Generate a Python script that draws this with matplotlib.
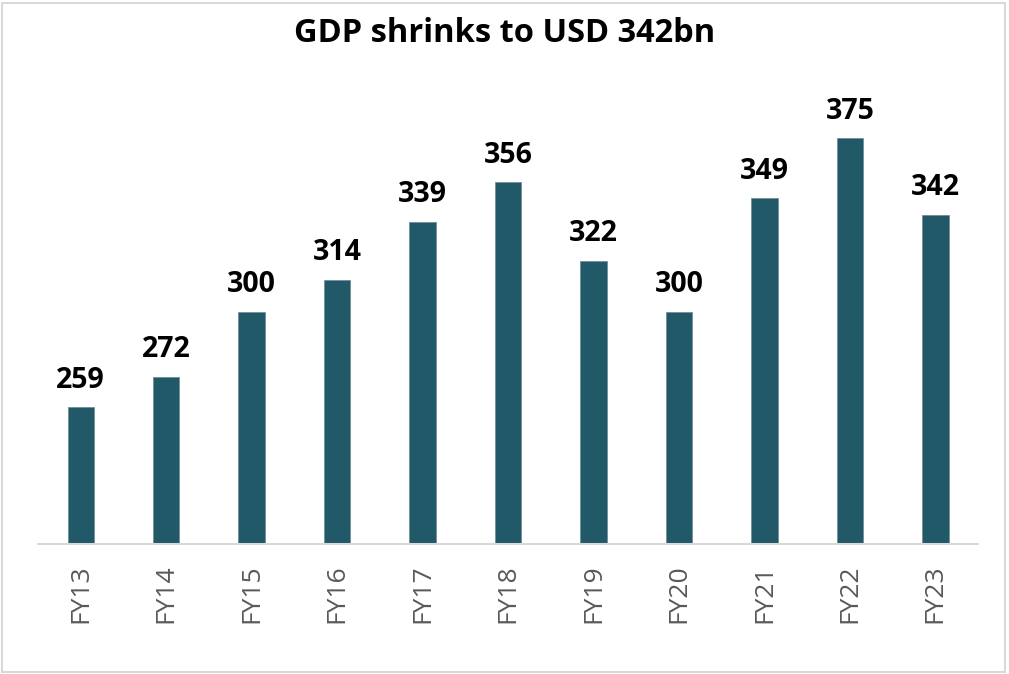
import matplotlib.pyplot as plt
from matplotlib.patches import Rectangle

# --- data ---
years = ["FY13", "FY14", "FY15", "FY16", "FY17", "FY18", "FY19", "FY20", "FY21", "FY22", "FY23"]
gdp_usd_bn = [259, 272, 300, 314, 339, 356, 322, 300, 349, 375, 342]

bar_color = "#215968"
plt.rcParams["font.family"] = ["Open Sans", "DejaVu Sans"]

fig = plt.figure(figsize=(10.09, 6.74), dpi=100)
ax = fig.add_axes([0.0377, 0.1929, 0.9316, 0.6884])

x = range(len(years))
ax.bar(x, gdp_usd_bn, width=0.31, color=bar_color, edgecolor="#6f8f99", linewidth=0.6, zorder=2)

for i, v in enumerate(gdp_usd_bn):
    ax.annotate(str(v), (i, v), xytext=(0, 9), textcoords="offset points",
                ha="center", va="bottom", fontsize=20.5, fontweight="bold", color="black")

ax.set_ylim(200, 400)
ax.set_xlim(-0.5, len(years) - 0.5)
ax.set_xticks(list(x))
ax.set_xticklabels(years, rotation=90, fontsize=19, color="#595959")
ax.tick_params(axis="x", length=0, pad=15)
ax.set_yticks([])
for side in ["top", "left", "right"]:
    ax.spines[side].set_visible(False)
ax.spines["bottom"].set_color("#d9d9d9")
ax.spines["bottom"].set_linewidth(1.5)

fig.text(0.5, 0.951, "GDP shrinks to USD 342bn", ha="center", va="center",
         fontsize=23.5, fontweight="bold", color="black")

# light grey frame around the chart
fig.patches.append(Rectangle((0.002, 0.003), 0.994, 0.992, transform=fig.transFigure,
                             fill=False, edgecolor="#d9d9d9", linewidth=1.5))

fig.savefig("out.png", dpi=100)
